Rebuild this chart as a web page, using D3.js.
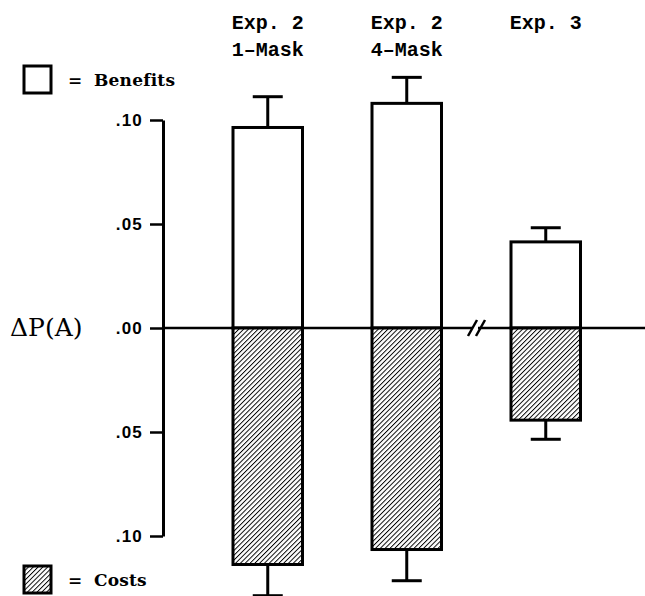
<!DOCTYPE html>
<html>
<head>
<meta charset="utf-8">
<script src="https://cdn.jsdelivr.net/npm/d3@7"></script>
<style>
  body { margin: 0; background: #fff; }
</style>
</head>
<body>
<div id="chart"></div>
<script>
// values
var experiments = ["Exp. 2 1-Mask", "Exp. 2 4-Mask", "Exp. 3"];
var labelLines = [["Exp. 2", "1\u2013Mask"], ["Exp. 2", "4\u2013Mask"], ["Exp. 3"]];
var benefits = [0.0964, 0.108, 0.0414];
var benefitErr = [0.0148, 0.0125, 0.0068];
var costs = [0.1137, 0.1065, 0.0443];
var costErr = [0.0150, 0.0150, 0.0092];
var tickValues = [0.10, 0.05, 0.00, -0.05, -0.10];

var width = 645, height = 596;

var svg = d3.select("#chart")
  .append("svg")
  .attr("width", width)
  .attr("height", height);

// hatch for the costs
var defs = svg.append("defs");
var pat = defs.append("pattern")
  .attr("id", "hatch")
  .attr("patternUnits", "userSpaceOnUse")
  .attr("width", 3.4)
  .attr("height", 3.4)
  .attr("patternTransform", "rotate(45)");
pat.append("rect").attr("width", 3.4).attr("height", 3.4).attr("fill", "#fff");
pat.append("line")
  .attr("x1", 0).attr("y1", 0).attr("x2", 0).attr("y2", 3.4)
  .attr("stroke", "#000").attr("stroke-width", 1.9);

var x = d3.scaleBand()
  .domain(experiments)
  .range([163.5, 650])
  .paddingInner(0.5)
  .paddingOuter(0.5);

var y = d3.scaleLinear()
  .domain([-0.1, 0.1])
  .range([536, 120]);

var axisX = 163;

// zero line
svg.append("line")
  .attr("x1", axisX).attr("x2", width)
  .attr("y1", y(0)).attr("y2", y(0))
  .attr("stroke", "#000").attr("stroke-width", 2.5);

// y axis
var yAxis = d3.axisLeft(y)
  .tickValues(tickValues)
  .tickSize(13)
  .tickSizeOuter(0)
  .tickPadding(7)
  .tickFormat(function(d) { return d3.format(".2f")(Math.abs(d)).replace(/^0/, ""); });

var ag = svg.append("g")
  .attr("transform", "translate(" + axisX + ",0)")
  .call(yAxis);
ag.select(".domain").attr("stroke-width", 3);
ag.selectAll(".tick line").attr("stroke-width", 2.5);
ag.selectAll(".tick text")
  .attr("font-family", "'Liberation Sans', Arial, sans-serif")
  .attr("font-size", 17)
  .attr("font-weight", "bold")
  .attr("letter-spacing", 1.2)
  .attr("fill", "#000");

// axis break on the zero line
svg.append("rect")
  .attr("x", 472).attr("y", y(0) - 3)
  .attr("width", 6).attr("height", 6)
  .attr("fill", "#fff");
svg.selectAll(".brk")
  .data([468, 476])
  .join("line")
  .attr("class", "brk")
  .attr("x1", function(d) { return d; })
  .attr("x2", function(d) { return d + 9; })
  .attr("y1", y(0) + 8).attr("y2", y(0) - 8)
  .attr("stroke", "#000").attr("stroke-width", 2.5);

// benefit bars
svg.selectAll(".ben")
  .data(benefits)
  .join("rect")
  .attr("class", "ben")
  .attr("x", function(d, i) { return x(experiments[i]); })
  .attr("width", x.bandwidth())
  .attr("y", function(d) { return y(d); })
  .attr("height", function(d) { return y(0) - y(d); })
  .attr("fill", "#fff")
  .attr("stroke", "#000")
  .attr("stroke-width", 3);

// cost bars
svg.selectAll(".cost")
  .data(costs)
  .join("rect")
  .attr("class", "cost")
  .attr("x", function(d, i) { return x(experiments[i]); })
  .attr("width", x.bandwidth())
  .attr("y", y(0))
  .attr("height", function(d) { return y(-d) - y(0); })
  .attr("fill", "url(#hatch)")
  .attr("stroke", "#000")
  .attr("stroke-width", 3);

// error bars
var capW = 30;
function errBars(vals, errs, sign, cls) {
  var g = svg.selectAll("." + cls)
    .data(vals)
    .join("g")
    .attr("class", cls)
    .attr("transform", function(d, i) { return "translate(" + (x(experiments[i]) + x.bandwidth() / 2) + ",0)"; });
  g.append("line")
    .attr("x1", 0).attr("x2", 0)
    .attr("y1", function(d) { return y(sign * d); })
    .attr("y2", function(d, i) { return y(sign * (d + errs[i])); })
    .attr("stroke", "#000").attr("stroke-width", 3);
  g.append("line")
    .attr("x1", -capW / 2).attr("x2", capW / 2)
    .attr("y1", function(d, i) { return y(sign * (d + errs[i])); })
    .attr("y2", function(d, i) { return y(sign * (d + errs[i])); })
    .attr("stroke", "#000").attr("stroke-width", 3);
}
errBars(benefits, benefitErr, 1, "ebBen");
errBars(costs, costErr, -1, "ebCost");

// category labels
svg.selectAll(".cat")
  .data(labelLines)
  .join("text")
  .attr("class", "cat")
  .attr("x", function(d, i) { return x(experiments[i]) + x.bandwidth() / 2; })
  .attr("y", 29)
  .attr("text-anchor", "middle")
  .attr("font-family", "'Liberation Mono', 'Courier New', monospace")
  .attr("font-weight", "bold")
  .attr("font-size", 20)
  .selectAll("tspan")
  .data(function(d) { return d; })
  .join("tspan")
  .attr("x", function() { return d3.select(this.parentNode).attr("x"); })
  .attr("dy", function(d, i) { return i === 0 ? 0 : 27; })
  .text(function(d) { return d; });

// y label
svg.append("text")
  .attr("x", 10).attr("y", 336)
  .attr("font-family", "'DejaVu Serif', serif")
  .attr("font-size", 25)
  .text("\u0394P(A)");

// legend
var legend = [
  {label: "Benefits", fill: "#fff", y: 66},
  {label: "Costs", fill: "url(#hatch)", y: 566}
];
var lg = svg.selectAll(".legend")
  .data(legend)
  .join("g")
  .attr("class", "legend")
  .attr("transform", function(d) { return "translate(24," + d.y + ")"; });
lg.append("rect")
  .attr("width", 27).attr("height", 27)
  .attr("fill", function(d) { return d.fill; })
  .attr("stroke", "#000").attr("stroke-width", 3);
lg.append("text")
  .attr("x", 44).attr("y", 20)
  .attr("font-family", "'DejaVu Serif', serif")
  .attr("font-weight", "bold")
  .attr("font-size", 17)
  .text("=");
lg.append("text")
  .attr("x", 70).attr("y", 20)
  .attr("font-family", "'DejaVu Serif', serif")
  .attr("font-weight", "bold")
  .attr("font-size", 17)
  .attr("letter-spacing", 0.2)
  .text(function(d) { return d.label; });
</script>
</body>
</html>
